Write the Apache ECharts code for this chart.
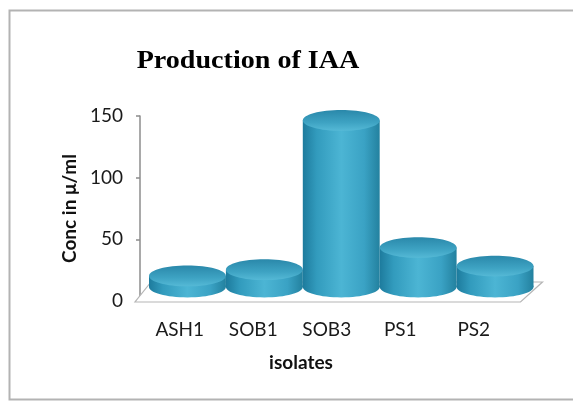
<!DOCTYPE html>
<html>
<head>
<meta charset="utf-8">
<script src="https://cdn.jsdelivr.net/npm/echarts@6/dist/echarts.min.js"></script>
<style>
  html, body { margin: 0; padding: 0; background: #ffffff; }
  #chart { width: 573px; height: 402px; }
</style>
</head>
<body>
<div id="chart"></div>
<script>
// IAA production by isolate (concentration in µg/ml)
const categories = ['ASH1', 'SOB1', 'SOB3', 'PS1', 'PS2'];
const concValues = [9, 14, 135, 32, 17];
const yTicks = { min: 0, max: 150, interval: 50 };

const titleText = 'Production of IAA';
const xTitle = 'isolates';
const yTitle = 'Conc in μ/ml';

const chart = echarts.init(document.getElementById('chart'), null, { renderer: 'canvas' });

// Side of a cylinder: horizontal shading, darker at both edges
const sideFill = new echarts.graphic.LinearGradient(0, 0, 1, 0, [
  { offset: 0, color: '#1d7b9d' },
  { offset: 0.18, color: '#329bbd' },
  { offset: 0.5, color: '#4cb5d4' },
  { offset: 0.8, color: '#3aa2c4' },
  { offset: 1, color: '#23819f' }
]);
// Top face: darker at the back, lighter at the front rim
const topFill = new echarts.graphic.LinearGradient(0, 0, 0, 1, [
  { offset: 0, color: '#2a88aa' },
  { offset: 0.6, color: '#3ea3c3' },
  { offset: 1, color: '#55b9d6' }
]);

function renderCylinder(params, api) {
  const idx = api.value(0);
  const val = api.value(1);
  const top = api.coord([idx, val]);
  const base = api.coord([idx, 0]);
  const rx = api.size([1, 0])[0] * 0.5;
  const ry = rx * 0.27;
  const cx = top[0];
  return {
    type: 'group',
    children: [
      { type: 'ellipse', shape: { cx: cx, cy: base[1], rx: rx, ry: ry }, style: { fill: sideFill } },
      { type: 'rect', shape: { x: cx - rx, y: top[1], width: rx * 2, height: base[1] - top[1] }, style: { fill: sideFill } },
      { type: 'ellipse', shape: { cx: cx, cy: top[1], rx: rx, ry: ry }, style: { fill: topFill } }
    ]
  };
}

// Floor of the plot: front edge on the value-0 line, receding up and to the right
function renderFloor(params, api) {
  const cs = params.coordSys;
  const yFront = cs.y + cs.height + 1;
  const xl = cs.x - 8;
  const xr = cs.x + cs.width + 10;
  const dx = 22, dy = 20;
  return {
    type: 'polygon',
    shape: { points: [[xl, yFront], [xr, yFront], [xr + dx, yFront - dy], [xl + 16, yFront - dy]] },
    style: { fill: '#ffffff', stroke: '#b5b5b5', lineWidth: 1.2 },
    silent: true
  };
}

const option = {
  backgroundColor: '#ffffff',
  animation: false,
  grid: [
    { left: 143, right: 62.5, top: 116, bottom: 101 },
    { left: 149, right: 39.5, top: 102, bottom: 115 }
  ],
  xAxis: [
    {
      gridIndex: 0, type: 'category', data: categories,
      axisLine: { show: false }, axisTick: { show: false },
      axisLabel: { margin: 19, fontFamily: 'Lato', fontSize: 19, color: '#1a1a1a' }
    },
    {
      gridIndex: 1, type: 'category', data: categories, show: false
    }
  ],
  yAxis: [
    {
      gridIndex: 0, type: 'value', min: yTicks.min, max: yTicks.max, interval: yTicks.interval,
      offset: 3,
      axisLine: { show: true, lineStyle: { color: '#8c8c8c', width: 1.5 } },
      axisTick: { show: true, length: 4, lineStyle: { color: '#8c8c8c', width: 1.5 } },
      splitLine: { show: false },
      axisLabel: { margin: 17, fontFamily: 'Lato', fontSize: 19, color: '#1a1a1a' },
      name: yTitle, nameLocation: 'middle', nameGap: 60,
      nameTextStyle: { fontFamily: 'Lato', fontWeight: 'bold', fontSize: 19, color: '#111' }
    },
    {
      gridIndex: 1, type: 'value', min: yTicks.min, max: yTicks.max, show: false
    }
  ],
  graphic: [
    {
      type: 'rect', silent: true, z: -10,
      shape: { x: 9.5, y: 10.5, width: 600, height: 389 },
      style: { fill: '#ffffff', stroke: '#b3b3b3', lineWidth: 2 }
    },
    {
      type: 'text', x: 248, y: 61, scaleX: 1.08,
      style: {
        text: titleText, font: 'bold 26px "Liberation Serif"', fill: '#000',
        textAlign: 'center', textVerticalAlign: 'middle'
      }
    },
    {
      type: 'text', x: 301, y: 363,
      style: {
        text: xTitle, font: 'bold 19px Lato', fill: '#111',
        textAlign: 'center', textVerticalAlign: 'middle'
      }
    }
  ],
  series: [
    {
      type: 'custom', xAxisIndex: 0, yAxisIndex: 0, silent: true, z: 1,
      renderItem: renderFloor, data: [[0, 0]]
    },
    {
      type: 'custom', xAxisIndex: 1, yAxisIndex: 1, z: 2,
      renderItem: renderCylinder,
      data: categories.map((c, i) => [i, concValues[i]])
    }
  ]
};

chart.setOption(option);
</script>
</body>
</html>
